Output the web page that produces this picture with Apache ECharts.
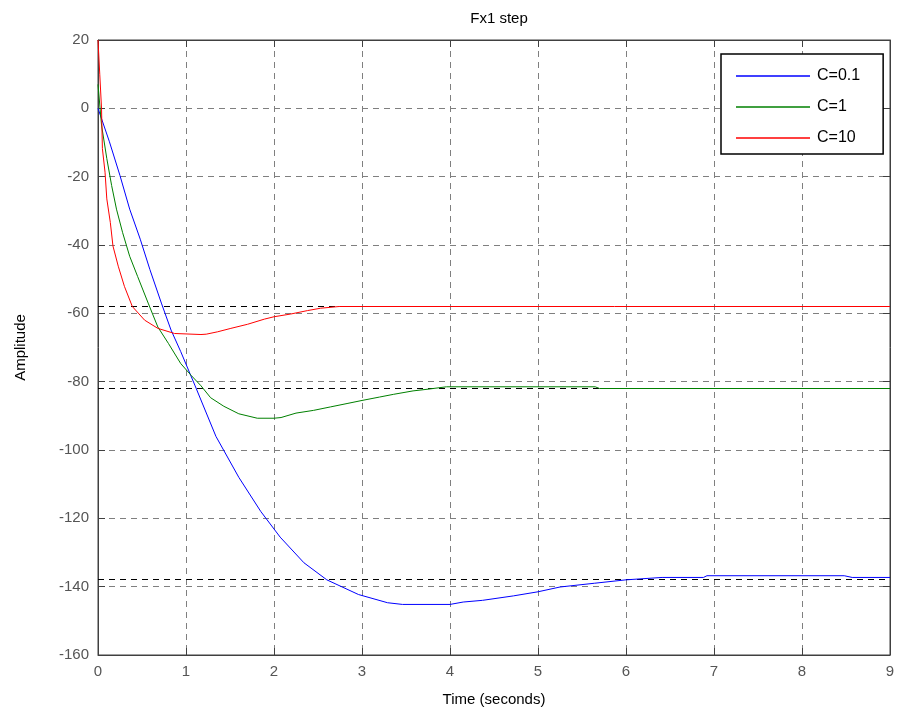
<!DOCTYPE html>
<html>
<head>
<meta charset="utf-8">
<script src="https://cdn.jsdelivr.net/npm/echarts@6/dist/echarts.min.js"></script>
<style>html,body{margin:0;padding:0;background:#fff}#c{width:903px;height:717px}</style>
</head>
<body>
<div id="c"></div>
<script>
const seriesNames = ['C=0.1', 'C=1', 'C=10'];
const seriesColors = ['#0000ff', '#008000', '#ff0000'];
const xTicks = [0, 1, 2, 3, 4, 5, 6, 7, 8, 9];
const yTicks = [-160, -140, -120, -100, -80, -60, -40, -20, 0, 20];

const tBlue = [0,0.13,0.25,0.36,0.48,0.59,0.72,0.83,0.94,1.1,1.34,1.6,1.85,2.07,2.34,2.6,2.96,3.29,3.46,4.0,4.15,4.37,4.72,5.0,5.25,5.64,6.0,6.41,6.88,6.92,8.48,8.57,9];
const vBlue = [0,-9.8,-19.7,-29.5,-38.3,-47.2,-57,-64.9,-71.2,-81,-96,-108,-118,-125.5,-133,-138,-142.3,-144.7,-145.2,-145.2,-144.5,-144,-142.7,-141.5,-140.1,-139,-138,-137.3,-137.3,-136.8,-136.8,-137.3,-137.3];

const tGreen = [0,0.04,0.1,0.155,0.21,0.28,0.36,0.45,0.57,0.68,0.8,0.94,1.06,1.17,1.28,1.43,1.6,1.81,2.0,2.08,2.25,2.45,2.64,2.83,3.0,3.2,3.36,3.58,3.75,3.96,5.65,5.7,9];
const vGreen = [7,-4.9,-14.7,-22.6,-29.5,-36.4,-43.3,-49.2,-57,-64,-68.8,-74.7,-78.2,-81.2,-84.7,-87.2,-89.4,-90.7,-90.7,-90.5,-89.2,-88.4,-87.4,-86.4,-85.5,-84.5,-83.7,-82.7,-82.2,-81.5,-81.5,-82,-82];

const tRed = [0,0.02,0.04,0.05,0.08,0.1,0.14,0.17,0.23,0.3,0.39,0.53,0.68,0.87,1.17,1.23,1.36,1.51,1.7,1.89,2.0,2.19,2.38,2.53,2.74,9];
const vRed = [20,10,0,-11.8,-18.7,-26.5,-33.4,-40.3,-46.2,-52.1,-58,-62,-64.4,-65.9,-66.2,-66.1,-65.4,-64.4,-63.2,-61.7,-61,-60.2,-59.2,-58.5,-58,-58];

const steadyValues = [-137.7, -82, -58];

const times = [tBlue, tGreen, tRed];
const values = [vBlue, vGreen, vRed];

const font = 'Liberation Sans, Arial, sans-serif';
const chart = echarts.init(document.getElementById('c'), null, {renderer: 'canvas'});

const series = seriesNames.map((n, i) => ({
  name: n,
  type: 'line',
  data: times[i].map((t, k) => [t, values[i][k]]),
  showSymbol: false,
  symbol: 'none',
  lineStyle: {color: seriesColors[i], width: 1},
  itemStyle: {color: seriesColors[i]},
  z: 5,
  animation: false
}));
series.push({
  name: 'steady',
  type: 'line',
  data: [],
  markLine: {
    silent: true,
    symbol: ['none', 'none'],
    label: {show: false},
    lineStyle: {color: '#000', type: [6, 5], width: 1},
    data: steadyValues.map(v => ({yAxis: v}))
  },
  z: 3,
  animation: false
});

const axisLine = {show: true, onZero: false, lineStyle: {color: '#404040', width: 1}};
chart.setOption({
  animation: false,
  backgroundColor: '#fff',
  title: {
    text: 'Fx1 step', left: 494, top: 6, textAlign: 'center',
    textStyle: {fontFamily: font, fontSize: 15, fontWeight: 'normal', color: '#000'}
  },
  grid: {left: 98, right: 13, top: 40, bottom: 62, show: true, borderColor: '#404040', borderWidth: 1},
  legend: {
    data: seriesNames,
    orient: 'vertical',
    left: 721, top: 54,
    backgroundColor: '#fff',
    borderColor: '#000', borderWidth: 1.5,
    padding: [14, 23, 8, 15],
    itemWidth: 74, itemHeight: 1.5,
    itemGap: 15,
    icon: 'rect',
    textStyle: {fontFamily: font, fontSize: 16, color: '#000', padding: [0,0,0,2]}
  },
  xAxis: [{
    type: 'value', min: xTicks[0], max: xTicks[xTicks.length-1], interval: 1,
    name: 'Time (seconds)', nameLocation: 'middle', nameGap: 37,
    nameTextStyle: {fontFamily: font, fontSize: 15, color: '#000'},
    axisLine: axisLine,
    axisTick: {show: true, inside: true, length: 7, lineStyle: {color: '#404040'}},
    axisLabel: {fontFamily: font, fontSize: 15, color: '#555', margin: 9},
    splitLine: {show: true, lineStyle: {color: '#7f7f7f', type: [6, 5], width: 1}}
  }, {
    type: 'value', position: 'top', min: xTicks[0], max: xTicks[xTicks.length-1], interval: 1,
    axisLine: axisLine,
    axisTick: {show: true, inside: true, length: 7, lineStyle: {color: '#404040'}},
    axisLabel: {show: false}, splitLine: {show: false}
  }],
  yAxis: [{
    type: 'value', min: yTicks[0], max: yTicks[yTicks.length-1], interval: 20,
    name: 'Amplitude', nameLocation: 'middle', nameGap: 70,
    nameTextStyle: {fontFamily: font, fontSize: 15, color: '#000'},
    axisLine: axisLine,
    axisTick: {show: true, inside: true, length: 7, lineStyle: {color: '#404040'}},
    axisLabel: {fontFamily: font, fontSize: 15, color: '#555', margin: 9},
    splitLine: {show: true, lineStyle: {color: '#7f7f7f', type: [6, 5], width: 1}}
  }, {
    type: 'value', position: 'right', min: yTicks[0], max: yTicks[yTicks.length-1], interval: 20,
    axisLine: axisLine,
    axisTick: {show: true, inside: true, length: 7, lineStyle: {color: '#404040'}},
    axisLabel: {show: false}, splitLine: {show: false}
  }],
  series: series
});
</script>
</body>
</html>
